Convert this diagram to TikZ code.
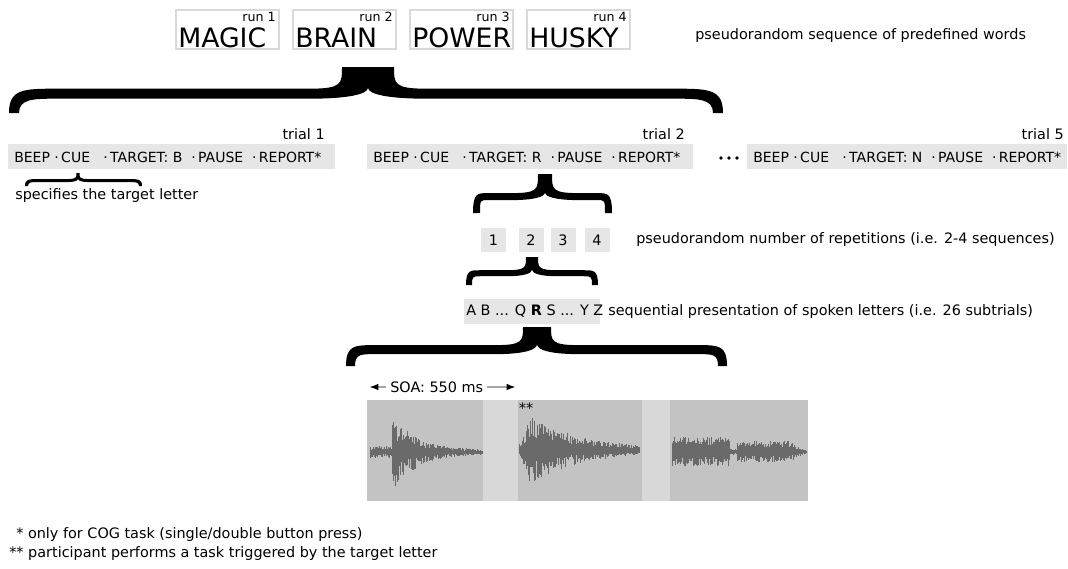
\documentclass[tikz,border=0pt]{standalone}
\usepackage{fontspec}
\setmainfont{DejaVu Sans}
\usetikzlibrary{arrows.meta}

\definecolor{panelgray}{HTML}{C3C3C3}
\definecolor{stripgray}{HTML}{D8D8D8}
\definecolor{rowgray}{HTML}{E6E6E6}
\definecolor{wavegray}{HTML}{6A6A6A}

\newcommand{\trialrow}[1]{BEEP\ ·\,CUE\ \ \ ·\,TARGET: #1\ \ ·\,PAUSE\ \ ·\,REPORT*}

% filled curly brace: x1, x2, xc, y top, y bottom, thickness, half stem
\newcommand{\fatbrace}[7]{%
  \pgfmathsetmacro\bxa{#1}\pgfmathsetmacro\bxb{#2}\pgfmathsetmacro\bxc{#3}%
  \pgfmathsetmacro\byt{#4}\pgfmathsetmacro\byb{#5}\pgfmathsetmacro\bt{#6}\pgfmathsetmacro\bs{#7}%
  \pgfmathsetmacro\bym{\byt+0.58*(\byb-\byt)}%
  \pgfmathsetmacro\bR{0.06*(\bxb-\bxa)+6}%
  \pgfmathsetmacro\bRR{\bs+1.2*(\bym-\byt)}%
  \fill (\bxa,\byb) .. controls (\bxa,\bym-0.5*\bt) and (\bxa+0.3*\bR,\bym-0.5*\bt) .. (\bxa+\bR,\bym-0.5*\bt)
    -- (\bxc-\bRR,\bym-0.5*\bt) .. controls (\bxc-\bs,\bym-0.5*\bt) and (\bxc-\bs,\bym-\bt) .. (\bxc-\bs,\byt)
    -- (\bxc+\bs,\byt) .. controls (\bxc+\bs,\bym-\bt) and (\bxc+\bs,\bym-0.5*\bt) .. (\bxc+\bRR,\bym-0.5*\bt)
    -- (\bxb-\bR,\bym-0.5*\bt) .. controls (\bxb-0.3*\bR,\bym-0.5*\bt) and (\bxb,\bym-0.5*\bt) .. (\bxb,\byb)
    -- (\bxb-\bt,\byb) .. controls (\bxb-\bt,\bym+0.5*\bt) and (\bxb-0.5*\bR,\bym+0.5*\bt) .. (\bxb-\bR,\bym+0.5*\bt)
    -- (\bxc+\bRR,\bym+0.5*\bt) .. controls (\bxc+0.3*\bRR,\bym+0.5*\bt) and (\bxc,\bym) .. (\bxc,\bym-0.6*\bt)
    .. controls (\bxc,\bym) and (\bxc-0.3*\bRR,\bym+0.5*\bt) .. (\bxc-\bRR,\bym+0.5*\bt)
    -- (\bxa+\bR,\bym+0.5*\bt) .. controls (\bxa+0.5*\bR,\bym+0.5*\bt) and (\bxa+\bt,\bym+0.5*\bt) .. (\bxa+\bt,\byb)
    -- cycle;}

\begin{document}
\begin{tikzpicture}[x=0.75pt,y=-0.75pt,line width=0.4pt,
  every node/.style={inner sep=0pt,font=\fontsize{10.8}{12}\selectfont},
  wordbox/.style={draw=black!15,line width=0.8pt,minimum width=77.25pt,minimum height=29.25pt},
  word/.style={anchor=base west,font=\fontsize{20}{22}\selectfont},
  runlabel/.style={anchor=base east,font=\fontsize{9.5}{10}\selectfont},
  rowbox/.style={fill=rowgray,minimum height=18.75pt,anchor=west},
  rowtext/.style={anchor=west,font=\fontsize{10.5}{12}\selectfont},
  numbox/.style={fill=rowgray,minimum width=18.75pt,minimum height=18pt},
  wave/.style={wavegray,line width=0.7pt},
  soaarrow/.style={black!35,line width=1.4pt,-{Latex[black,length=7pt,width=5pt]}}]
\path[use as bounding box] (0,0) rectangle (1068,568);

% words of the runs
\node[wordbox] (magic) at (227.5,29.5) {};
\node[wordbox] (brain) at (344.5,29.5) {};
\node[wordbox] (power) at (461.5,29.5) {};
\node[wordbox] (husky) at (578.5,29.5) {};
\node[word] (w1) at (178,47) {MAGIC};
\node[word] (w2) at (295,47) {BRAIN};
\node[word] (w3) at (412,47) {POWER};
\node[word] (w4) at (529,47) {HUSKY};
\node[runlabel] (r1) at (276,21) {run 1};
\node[runlabel] (r2) at (393,21) {run 2};
\node[runlabel] (r3) at (510,21) {run 3};
\node[runlabel] (r4) at (627,21) {run 4};
\node[anchor=west] (seqtxt) at (695,36) {pseudorandom sequence of predefined words};

\fatbrace{9}{723}{368}{67}{113}{10}{26}

% trials
\node[rowbox,minimum width=245.25pt] (t1) at (8,156) {};
\node[rowbox,minimum width=244.5pt] (t2) at (367,156) {};
\node[rowbox,minimum width=240pt] (t5) at (747,156) {};
\node[rowtext] (t1txt) at (14,157) {\trialrow{B}};
\node[rowtext] (t2txt) at (373,157) {\trialrow{R}};
\node[rowtext] (t5txt) at (753,157) {\trialrow{N}};
\node[anchor=base east] (l1) at (325,139) {trial 1};
\node[anchor=base east] (l2) at (685,139) {trial 2};
\node[anchor=base east] (l5) at (1064,139) {trial 5};
\foreach \d in {721,729,737}
  \fill (\d,158) circle[radius=1.8];

\fatbrace{25}{142}{78}{173}{186}{3}{1.5}
\node[anchor=west] (spec) at (15,196) {specifies the target letter};

\fatbrace{473}{612}{545}{174}{213}{7}{7}

% repetitions
\node[numbox] (n1) at (493.5,240) {1};
\node[numbox] (n2) at (531,240) {2};
\node[numbox] (n3) at (563,240) {3};
\node[numbox] (n4) at (597,240) {4};
\node[anchor=west] (reptxt) at (636,240) {pseudorandom number of repetitions (i.e. 2-4 sequences)};

\fatbrace{466}{598}{532}{257}{285}{6}{6}

% letters
\node[rowbox,minimum width=102pt] (abc) at (464,311) {};
\node[anchor=west] (abctxt) at (466,311) {A B ... Q \textbf{R} S ... Y Z};
\node[anchor=west] (lettxt) at (608,312) {sequential presentation of spoken letters (i.e. 26 subtrials)};

\fatbrace{346}{727}{537}{327}{366}{9}{14}

% SOA
\node[anchor=west] (soa) at (390,387) {SOA: 550 ms};
\coordinate (soaL) at (369,387);
\coordinate (soaR) at (516,387);
\draw[soaarrow] (soa.west) ++(-3pt,0) -- (soaL);
\draw[soaarrow] (soa.east) ++(3pt,0) -- (soaR);

% sound panel
\fill[panelgray] (367,400) rectangle (808,501);
\fill[stripgray] (483,400) rectangle (518,501);
\fill[stripgray] (642,400) rectangle (670,501);
\node (stars) at (526,408) {**};

\pgfmathsetseed{11}
\foreach \x in {370,370.7,...,482} {
  \pgfmathsetmacro\amp{ifthenelse(\x<392,6,36*exp(-max(\x-392,0)/24)+2)}
  \pgfmathsetmacro\up{\amp*(0.35+0.65*rnd)}
  \pgfmathsetmacro\dn{\amp*(0.35+0.75*rnd)}
  \draw[wave] (\x,452-\up) -- (\x,452+\dn);
}
\foreach \x in {519,519.7,...,640} {
  \pgfmathsetmacro\amp{ifthenelse(\x<530,4+(\x-519)*2.6,32*exp(-max(\x-530,0)/48)+2)}
  \pgfmathsetmacro\up{\amp*(0.35+0.65*rnd)}
  \pgfmathsetmacro\dn{\amp*(0.35+0.65*rnd)}
  \draw[wave] (\x,450-\up) -- (\x,450+\dn);
}
\foreach \x in {672,672.7,...,807} {
  \pgfmathsetmacro\amp{ifthenelse(\x<730,15,ifthenelse(\x<737,3,ifthenelse(\x<790,11,11*exp(-max(\x-790,0)/8)+1)))}
  \pgfmathsetmacro\up{\amp*(0.45+0.55*rnd)}
  \pgfmathsetmacro\dn{\amp*(0.35+0.6*rnd)}
  \draw[wave] (\x,452-\up) -- (\x,452+\dn);
}

% footnotes
\node[anchor=west] (fn1) at (16,535) {* only for COG task (single/double button press)};
\node[anchor=west] (fn2) at (9,554) {** participant performs a task triggered by the target letter};
\end{tikzpicture}
\end{document}
